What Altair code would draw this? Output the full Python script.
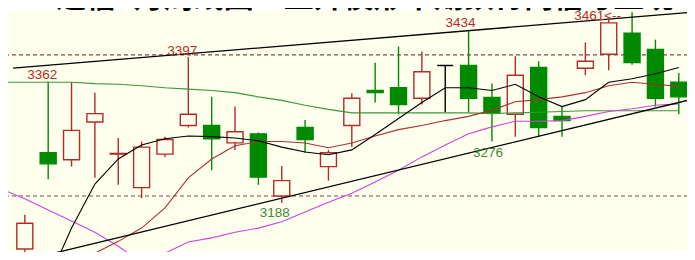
import altair as alt
import pandas as pd

# ---------------- data ----------------
title_text = "通信3月周线图：上升楔形中期顶背离信号显现"

week = list(range(29))
open_ = [3122, 3260, 3250, 3304, 3258, 3210, 3258, 3299, 3299, 3274,
         3287, 3198, 3296, 3240, 3299, 3349, 3353, 3338, 3385, 3385,
         3339, 3315, 3382, 3312, 3381, 3401, 3431, 3408, 3361]
high = [3171, 3362, 3361, 3346, 3281, 3276, 3283, 3397, 3340, 3326,
        3289, 3241, 3307, 3264, 3345, 3389, 3412, 3405, 3385, 3434,
        3359, 3398, 3391, 3326, 3418, 3450, 3461, 3422, 3374]
low = [3089, 3222, 3240, 3224, 3214, 3195, 3254, 3296, 3235, 3264,
       3214, 3188, 3260, 3220, 3268, 3332, 3315, 3329, 3318, 3318,
       3276, 3283, 3283, 3283, 3371, 3378, 3386, 3326, 3315]
close = [3159, 3244, 3292, 3316, 3259, 3268, 3279, 3315, 3280, 3290,
         3225, 3220, 3279, 3260, 3338, 3346, 3329, 3376, 3385, 3338,
         3318, 3371, 3296, 3306, 3391, 3446, 3389, 3338, 3340]

# 5-week MA (black), weeks 1..28
ma5_week = list(range(1, 29))
ma5 = [3077, 3152, 3215, 3251, 3271, 3280, 3284, 3283, 3281, 3277,
       3268, 3261, 3257, 3264, 3286, 3309, 3332, 3353, 3353, 3349,
       3358, 3340, 3326, 3336, 3361, 3366, 3373, 3382]

# 10-week MA (red), weeks 1..28
ma10_week = list(range(1, 29))
ma10 = [3084, 3099, 3116, 3133, 3152, 3181, 3224, 3251, 3270, 3276,
        3276, 3274, 3267, 3274, 3284, 3293, 3299, 3306, 3312, 3321,
        3333, 3336, 3340, 3346, 3356, 3361, 3358, 3355]

# 20-week MA (magenta), weeks -1..28
ma20_week = list(range(-1, 29))
ma20 = [3208, 3194, 3178, 3162, 3146, 3126, 3103, 3116, 3132, 3138,
        3146, 3152, 3161, 3175, 3189, 3202, 3218, 3235, 3254, 3271,
        3287, 3297, 3305, 3305, 3306, 3312, 3319, 3323, 3328, 3330]

# 60-week MA (green), weeks -1..28
ma60_week = list(range(-1, 29))
ma60 = [3361, 3361, 3361, 3361, 3359, 3358, 3356, 3353, 3351, 3349,
        3346, 3340, 3335, 3328, 3322, 3317, 3317, 3317, 3317, 3317,
        3317, 3316, 3317, 3318, 3319, 3320, 3320, 3320, 3320, 3320]

# trend lines (wedge): endpoints
upper_week = [-0.5, 28.5]
upper_price = [3381, 3461]
lower_week = [-0.5, 28.5]
lower_price = [3102, 3336]

# horizontal dashed levels
levels = [3400, 3198]

# annotations
high_labels = ["3362", "3397", "3434", "3461<--"]
high_label_week = [1, 7, 19, 26]
high_label_price = [3362, 3397, 3434, 3461]
low_labels = ["3188", "3276"]
low_label_week = [11, 20]
low_label_price = [3188, 3276]

# ---------------- chart ----------------
RED = "#B22C2C"
GREEN = "#008A00"
CREAM = "#FFFFEE"

xs = alt.Scale(domain=[-0.5063, 28.48], nice=False, zero=False)
ys = alt.Scale(domain=[3106.3, 3464.4], nice=False, zero=False)


def X(field="w"):
    return alt.X(f"{field}:Q", scale=xs, axis=None)


def Y(field="p"):
    return alt.Y(f"{field}:Q", scale=ys, axis=None)


candles = pd.DataFrame({"w": week, "open": open_, "high": high,
                        "low": low, "close": close})
candles["dir"] = ["up" if c > o else ("down" if c < o else "flat")
                  for o, c in zip(open_, close)]

dir_dom = ["up", "down", "flat"]
stroke_scale = alt.Scale(domain=dir_dom, range=[RED, GREEN, "#000000"])
fill_scale = alt.Scale(domain=dir_dom, range=[CREAM, GREEN, "#000000"])

wicks = alt.Chart(candles).mark_rule(strokeWidth=1.4, clip=True).encode(
    x=X("w"), y=Y("low"), y2="high:Q",
    color=alt.Color("dir:N", scale=stroke_scale, legend=None))

bodies = alt.Chart(candles).mark_bar(size=16, strokeWidth=1.4, clip=True).encode(
    x=X("w"), y=Y("open"), y2="close:Q",
    fill=alt.Fill("dir:N", scale=fill_scale, legend=None),
    stroke=alt.Stroke("dir:N", scale=stroke_scale, legend=None))


def line(weeks, vals, color, width=1.1):
    df = pd.DataFrame({"w": weeks, "p": vals})
    return alt.Chart(df).mark_line(color=color, strokeWidth=width, clip=True,
                                   interpolate="linear").encode(x=X(), y=Y())


lvl = alt.Chart(pd.DataFrame({"p": levels})).mark_rule(
    color="#7A4A4A", strokeDash=[4, 3], strokeWidth=1.2).encode(y=Y())

l60 = line(ma60_week, ma60, "#3C963C")
l20 = line(ma20_week, ma20, "#CC44DD")
l10 = line(ma10_week, ma10, "#A83232")
l5 = line(ma5_week, ma5, "#000000")
tu = line(upper_week, upper_price, "#000000", 1.3)
tl = line(lower_week, lower_price, "#000000", 1.3)

labels = []
hi_off = [(-6, -2.5), (-6, -2), (-8, -4), (-11, 8)]
for t, w, p, (dx, dy) in zip(high_labels, high_label_week, high_label_price, hi_off):
    align = "right" if t.endswith("-") else "center"
    labels.append(alt.Chart(pd.DataFrame({"w": [w], "p": [p], "t": [t]})).mark_text(
        font="Liberation Sans", fontSize=13.5, color=RED, align=align,
        baseline="alphabetic", dx=dx, dy=dy).encode(x=X(), y=Y(), text="t:N"))
lo_off = [(-7, 14), (-4, 15.5)]
for t, w, p, (dx, dy) in zip(low_labels, low_label_week, low_label_price, lo_off):
    labels.append(alt.Chart(pd.DataFrame({"w": [w], "p": [p], "t": [t]})).mark_text(
        font="Liberation Sans", fontSize=13.5, color="#3C8C3C", align="center",
        baseline="alphabetic", dx=dx, dy=dy).encode(x=X(), y=Y(), text="t:N"))

title = alt.Chart(pd.DataFrame({"t": [title_text]})).mark_text(
    font="Noto Sans CJK SC", fontSize=30, fontWeight="bold", color="#000000",
    align="center", baseline="alphabetic").encode(
    text="t:N", x=alt.value(357), y=alt.value(-3))

chart = alt.layer(
    lvl, wicks, bodies, l60, l20, l10, l5, tu, tl, *labels, title
).properties(
    width=687, height=250,
    padding={"left": 0, "top": 2, "right": -8, "bottom": -8},
    autosize="none", background="white"
).configure_view(fill=CREAM, stroke=None)

chart.save("out.html", embed_options={"renderer": "svg", "actions": False})
